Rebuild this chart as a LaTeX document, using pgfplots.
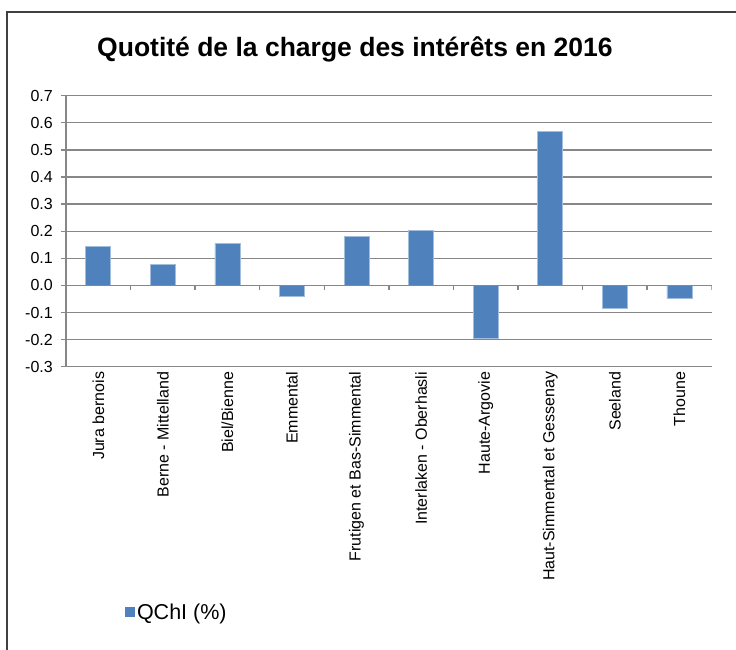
\documentclass[border=0pt]{standalone}
\usepackage{pgfplots}
\pgfplotsset{compat=1.18}
\usepackage{fontspec}
\setmainfont{Liberation Sans}
\definecolor{barblue}{HTML}{4F81BD}
\definecolor{baredge}{HTML}{A3BDDC}
\definecolor{gridgray}{HTML}{878787}
\definecolor{framegray}{HTML}{404040}
\begin{document}
\begin{tikzpicture}
\path[use as bounding box] (0bp,0bp) rectangle (736bp,650bp);
\draw[framegray, line width=1.5bp] (7bp,0bp) -- (7bp,638bp) -- (736bp,638bp);
\node[anchor=base west, inner sep=0pt, font=\fontsize{26.5bp}{31bp}\selectfont\bfseries] at (97bp,593bp) {Quotité de la charge des intérêts en 2016};
\begin{axis}[
  at={(66bp,283.3bp)}, anchor=south west,
  scale only axis, width=645.7bp, height=271bp,
  xmin=-0.5, xmax=9.5, ymin=-0.3, ymax=0.7,
  axis lines*=left,
  axis line style={-, draw=gridgray, line width=1.3bp},
  ytick={-0.3,-0.2,-0.1,0,0.1,0.2,0.3,0.4,0.5,0.6,0.7},
  /pgf/number format/fixed, /pgf/number format/fixed zerofill, /pgf/number format/precision=1, /pgf/number format/assume math mode=true,
  yticklabel style={anchor=east, inner sep=0pt, xshift=-8bp, font=\fontsize{16bp}{19bp}\selectfont},
  ymajorgrids, major grid style={draw=gridgray, line width=1.3bp},
  ytick style={draw=gridgray, line width=1.3bp},
  major tick length=5bp, tick align=outside,
  xtick={0,...,9}, xtick style={draw=none},
  xticklabels={Jura bernois, Berne - Mittelland, Biel/Bienne, Emmental, Frutigen et Bas-Simmental, Interlaken - Oberhasli, Haute-Argovie, Haut-Simmental et Gessenay, Seeland, Thoune},
  xticklabel style={rotate=90, anchor=east, inner sep=0pt, font=\fontsize{16bp}{19bp}\selectfont},
  ybar, bar width=25bp,
  legend style={at={(0.0914,-0.905)}, anchor=west, draw=none, fill=none, inner sep=0pt, font=\fontsize{21.5bp}{25bp}\selectfont, legend cell align=left},
  legend image code/.code={\fill[barblue] (0bp,-4.5bp) rectangle (9bp,4.5bp);},
]
\addplot[fill=barblue, draw=baredge, line width=0.8bp] coordinates {
(0,0.145) (1,0.077) (2,0.155) (3,-0.041) (4,0.182) (5,0.204) (6,-0.196) (7,0.568) (8,-0.085) (9,-0.049)};
\addlegendentry{QChI (\%)}
\draw[gridgray, line width=1.3bp] (axis cs:-0.5,0) -- (axis cs:9.5,0);
\pgfplotsinvokeforeach{-0.5,0.5,1.5,2.5,3.5,4.5,5.5,6.5,7.5,8.5,9.5}{
  \draw[gridgray, line width=1.3bp] (axis cs:#1,0) -- ([yshift=-5bp]axis cs:#1,0);
}
\end{axis}
\end{tikzpicture}
\end{document}
